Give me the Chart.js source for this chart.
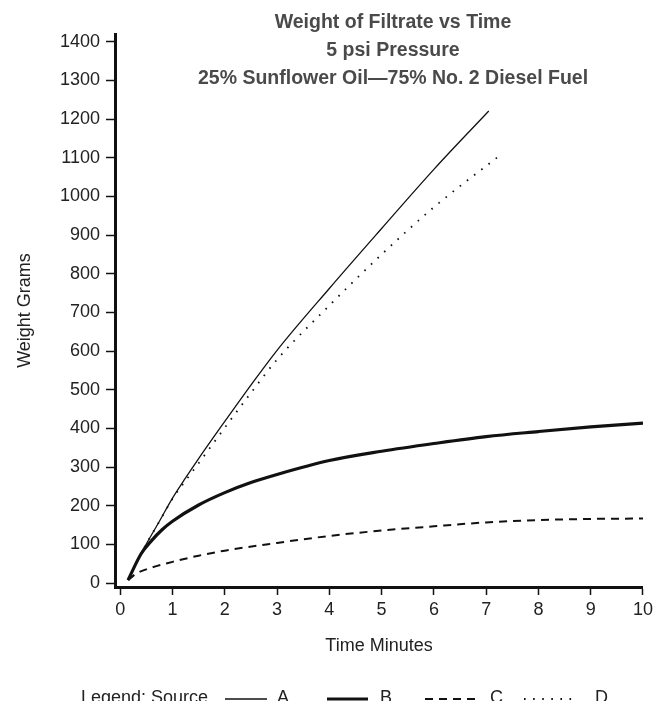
<!DOCTYPE html>
<html>
<head>
<meta charset="utf-8">
<title>Weight of Filtrate vs Time</title>
<script src="https://cdn.jsdelivr.net/npm/chart.js@4.4.0/dist/chart.umd.min.js"></script>
<style>
  body { margin: 0; background: #fff; }
  canvas { display: block; }
</style>
</head>
<body>
<canvas id="grafico" width="657" height="701"></canvas>
<script>
// Datos (tiempo en minutos, peso en gramos)
const tituloLineas = ['Weight of Filtrate vs Time', '5 psi Pressure', '25% Sunflower Oil\u201475% No. 2 Diesel Fuel'];

const tiempoA = [0.15, 0.4, 0.75, 1, 1.25, 1.5, 2, 2.5, 3, 4, 5, 6, 7.05];
const pesoA   = [8, 77, 160, 220, 272, 322, 418, 512, 602, 762, 917, 1070, 1221];

const tiempoB = [0.15, 0.4, 0.6, 0.8, 1, 1.5, 2, 2.5, 3, 4, 5, 6, 7, 8, 9, 10];
const pesoB   = [8, 76, 110, 138, 160, 202, 234, 260, 281, 317, 341, 361, 379, 392, 404, 414];

const tiempoC = [0.15, 0.3, 0.55, 1, 1.5, 2, 3, 4, 5, 6, 7, 8, 9, 10];
const pesoC   = [8, 24, 38, 55, 71, 84, 104, 122, 136, 147, 157, 163, 166, 167];

const tiempoD = [0.15, 0.4, 0.75, 1, 1.25, 1.5, 2, 2.5, 3, 4, 5, 6, 7.25];
const pesoD   = [8, 77, 160, 218, 265, 310, 402, 492, 578, 718, 850, 972, 1105];

const xTicks = [0, 1, 2, 3, 4, 5, 6, 7, 8, 9, 10];
const yTicks = [0, 100, 200, 300, 400, 500, 600, 700, 800, 900, 1000, 1100, 1200, 1300, 1400];

const fuente = "'Liberation Sans', Arial, Helvetica, sans-serif";

function puntos(xs, ys) {
  return xs.map((x, i) => ({ x: x, y: ys[i] }));
}

const series = [
  { label: 'A', data: puntos(tiempoA, pesoA), borderWidth: 1.3, borderDash: [] },
  { label: 'B', data: puntos(tiempoB, pesoB), borderWidth: 3.2, borderDash: [] },
  { label: 'C', data: puntos(tiempoC, pesoC), borderWidth: 2, borderDash: [8, 6] },
  { label: 'D', data: puntos(tiempoD, pesoD), borderWidth: 1.8, borderDash: [1.6, 7.5] }
];

// Titulo y leyenda dibujados a mano (el original los tiene sobre el area)
const textosExtra = {
  id: 'textosExtra',
  afterDraw(chart) {
    const ctx = chart.ctx;
    ctx.save();
    ctx.fillStyle = '#4a4a4a';
    ctx.font = 'bold 19.5px ' + fuente;
    ctx.textAlign = 'center';
    ctx.textBaseline = 'middle';
    tituloLineas.forEach((t, i) => ctx.fillText(t, 393, 23 + i * 28));

    // leyenda cortada al pie
    ctx.fillStyle = '#222';
    ctx.font = '18px ' + fuente;
    ctx.textAlign = 'left';
    ctx.textBaseline = 'alphabetic';
    ctx.fillText('Legend: Source', 81, 703);
    const muestras = [[225, 267, 277], [327, 368, 380], [425, 477, 490], [524, 577, 595]];
    chart.data.datasets.forEach((ds, i) => {
      const m = muestras[i];
      ctx.strokeStyle = '#111';
      ctx.lineWidth = ds.borderWidth;
      ctx.setLineDash(ds.borderDash);
      ctx.beginPath();
      ctx.moveTo(m[0], 699);
      ctx.lineTo(m[1], 699);
      ctx.stroke();
      ctx.setLineDash([]);
      ctx.fillText(ds.label, m[2], 703);
    });
    ctx.restore();
  }
};

new Chart(document.getElementById('grafico'), {
  type: 'line',
  data: {
    datasets: series.map(s => ({
      label: s.label,
      data: s.data,
      borderColor: '#111',
      borderWidth: s.borderWidth,
      borderDash: s.borderDash,
      pointRadius: 0,
      fill: false,
      cubicInterpolationMode: 'monotone'
    }))
  },
  options: {
    responsive: false,
    animation: false,
    layout: { padding: { top: 34, right: 12, bottom: 44, left: 0 } },
    plugins: {
      legend: { display: false },
      tooltip: { enabled: false }
    },
    scales: {
      x: {
        type: 'linear',
        min: -0.1,
        max: 10,
        afterFit: function (scale) { scale.height = 70; },
        afterBuildTicks: function (scale) { scale.ticks = xTicks.map(v => ({ value: v })); },
        border: { color: '#111', width: 3 },
        grid: { drawOnChartArea: false, tickLength: 8, tickWidth: 1.5, tickColor: '#111' },
        ticks: { color: '#222', padding: 4, font: { family: fuente, size: 18 }, callback: v => String(v) },
        title: {
          display: true,
          text: 'Time Minutes',
          color: '#222',
          padding: { top: 0, bottom: 0 },
          font: { family: fuente, size: 18 }
        }
      },
      y: {
        min: -10,
        max: 1420,
        afterFit: function (scale) { scale.width = 115; },
        afterBuildTicks: function (scale) { scale.ticks = yTicks.map(v => ({ value: v })); },
        border: { color: '#111', width: 3 },
        grid: { drawOnChartArea: false, tickLength: 9, tickWidth: 1.5, tickColor: '#111' },
        ticks: { color: '#222', padding: 6, font: { family: fuente, size: 18 }, callback: v => String(v) },
        title: {
          display: true,
          text: 'Weight Grams',
          color: '#222',
          padding: { top: 14, bottom: 0 },
          font: { family: fuente, size: 18 }
        }
      }
    }
  },
  plugins: [textosExtra]
});
</script>
</body>
</html>
